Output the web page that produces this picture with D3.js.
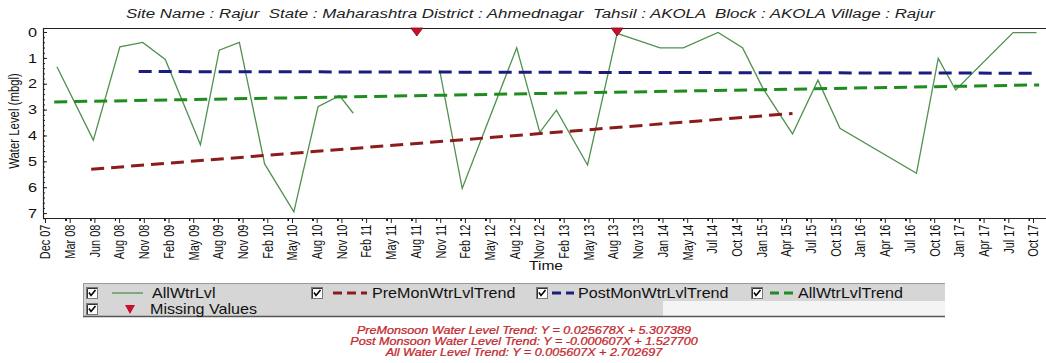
<!DOCTYPE html>
<html>
<head>
<meta charset="utf-8">
<script src="https://cdn.jsdelivr.net/npm/d3@7"></script>
<style>
  body { margin: 0; background: #fff; }
  svg { display: block; }
  text { font-family: "Liberation Sans", Arial, sans-serif; }
</style>
</head>
<body>
<svg id="chart" width="1046" height="363"></svg>
<script>
// ---- Data -------------------------------------------------------------
const tickLabels = ["Dec 07","Mar 08","Jun 08","Aug 08","Nov 08","Feb 09","May 09","Aug 09","Nov 09",
  "Feb 10","May 10","Aug 10","Nov 10","Feb 11","May 11","Aug 11","Nov 11","Feb 12","May 12","Aug 12",
  "Nov 12","Feb 13","May 13","Aug 13","Nov 13","Jan 14","May 14","Jul 14","Oct 14","Jan 15","Apr 15",
  "Jul 15","Oct 15","Jan 16","Apr 16","Jul 16","Oct 16","Jan 17","Apr 17","Jul 17","Oct 17"];

// Observed water level (m below ground level); null marks a break in the record
const obsDates = ["2008-01-14","2008-05-28","2008-08-04","2008-10-28","2009-01-20","2009-05-28",
  "2009-08-06","2009-10-20","2010-01-22","2010-05-08","2010-08-06","2010-10-25","2010-12-15",
  "2011-08-06","2011-10-30","2012-01-22","2012-08-10","2012-11-04","2013-01-05","2013-04-28",
  "2013-08-16","2013-12-26","2014-04-12","2014-07-24","2014-10-23","2015-01-07","2015-04-25",
  "2015-07-28","2015-10-18","2016-07-27","2016-10-16","2016-12-20","2017-07-19","2017-10-14"];
const obsLevels = [1.34, 4.18, 0.57, 0.40, 1.06, 4.36,
  0.70, 0.40, 5.10, 6.95, 2.89, 2.46, 3.14,
  null, 1.47, 6.05, 0.61, 3.88, 3.02, 5.14,
  0.05, 0.61, 0.61, 0.02, 0.61, 2.18, 3.94,
  1.86, 3.72, 5.46, 1.02, 2.24, 0.02, 0.02];

const missingDates = ["2011-08-06", "2013-08-16"];

const preTrendDates = ["2008-05-20", "2015-04-25"];
const preTrendLevels = [5.307, 3.150];
const postTrendDates = ["2008-10-13", "2017-10-01"];
const postTrendLevels = [1.528, 1.593];
const allTrendDates = ["2008-01-04", "2017-10-24"];
const allTrendLevels = [2.703, 2.044];

const yTickValues = [0, 1, 2, 3, 4, 5, 6, 7];

const titleText = "Site Name : Rajur  State : Maharashtra District : Ahmednagar  Tahsil : AKOLA  Block : AKOLA Village : Rajur";
const legendRow1 = ["AllWtrLvl", "PreMonWtrLvlTrend", "PostMonWtrLvlTrend", "AllWtrLvlTrend"];
const legendRow2 = ["Missing Values"];
const trendEquations = [
  "PreMonsoon Water Level Trend: Y = 0.025678X + 5.307389",
  "Post Monsoon Water Level Trend: Y = -0.000607X + 1.527700",
  "All Water Level Trend: Y = 0.005607X + 2.702697"
];

// ---- Colours ----------------------------------------------------------
const C = {
  level: "#4f914f",
  pre: "#8c1c1c",
  post: "#1c1c7e",
  all: "#1f8c1f",
  missing: "#c8102e",
  eq: "#c2282d",
  axis: "#222"
};

// ---- Layout & scales ----------------------------------------------------
const svg = d3.select("#chart");
const plot = { left: 43, right: 1046, top: 28, bottom: 218 };

const parseTick = d3.timeParse("%b %y");
const parseDay = d3.timeParse("%Y-%m-%d");
const tickDates = tickLabels.map(parseTick);

// tick labels are evenly spaced; dates between them are placed proportionally
const xSlot = d3.scalePoint().domain(tickLabels).range([45, 1033]);
const x = d3.scaleTime().domain(tickDates).range(tickLabels.map(l => xSlot(l)));
const y = d3.scaleLinear().domain([-0.155, 7.19]).range([plot.top, plot.bottom]);

svg.append("defs").append("clipPath").attr("id", "plotClip")
  .append("rect").attr("x", plot.left).attr("y", plot.top)
  .attr("width", plot.right - plot.left).attr("height", plot.bottom - plot.top);

// ---- Title ----------------------------------------------------------------
svg.append("text")
  .attr("x", 126).attr("y", 18)
  .attr("font-size", 12).attr("font-style", "italic").attr("fill", "#222")
  .attr("textLength", 809).attr("lengthAdjust", "spacingAndGlyphs")
  .attr("xml:space", "preserve").style("white-space", "pre")
  .text(titleText);

// ---- Axes -----------------------------------------------------------------
// minor x ticks: six per labelled interval, continuing to the right edge
const extTicks = tickDates.concat([parseTick("Jan 18")]);
const minorX = [];
for (let i = 0; i < extTicks.length - 1; i++) {
  const interp = d3.interpolateDate(extTicks[i], extTicks[i + 1]);
  for (let k = 1; k < 6; k++) minorX.push(interp(k / 6));
}
minorX.push(extTicks[extTicks.length - 1]);

const gx = svg.append("g").attr("transform", `translate(0,${plot.bottom})`);
gx.call(d3.axisBottom(x).tickValues(minorX).tickSize(3).tickFormat(""))
  .call(g => g.select(".domain").remove());
const gxMajor = svg.append("g").attr("transform", `translate(0,${plot.bottom})`);
gxMajor.call(d3.axisBottom(x).tickValues(tickDates).tickSize(5).tickPadding(4)
    .tickFormat((d, i) => tickLabels[i]))
  .call(g => g.select(".domain").remove());
gxMajor.selectAll("text")
  .attr("font-size", 11.5).attr("font-family", "'Liberation Sans', Arial, sans-serif")
  .attr("fill", "#111")
  .attr("transform", "rotate(-90) scale(0.95,1.2)")
  .attr("text-anchor", "end")
  .attr("x", -7).attr("y", 0).attr("dy", "0.35em");
svg.selectAll(".tick line").attr("stroke", C.axis);

const minorY = d3.range(0, 7.21, 0.2);
svg.append("g").attr("transform", `translate(${plot.left},0)`)
  .call(d3.axisLeft(y).tickValues(minorY).tickSize(-2).tickFormat(""))
  .call(g => g.select(".domain").remove())
  .selectAll("line").attr("stroke", C.axis);
const gy = svg.append("g").attr("transform", `translate(${plot.left},0)`);
gy.call(d3.axisLeft(y).tickValues(yTickValues).tickSize(-4).tickPadding(6).tickFormat(d3.format("d")))
  .call(g => g.select(".domain").remove());
gy.selectAll("line").attr("stroke", C.axis);
gy.selectAll("text")
  .attr("font-size", 13).attr("font-family", "'Liberation Sans', Arial, sans-serif").attr("fill", "#111")
  .attr("transform", "translate(-6,0) scale(1.25,1) translate(6,0)");

// frame: top border, left axis, bottom axis
const frame = svg.append("g").attr("stroke", C.axis).attr("stroke-width", 1.2);
frame.append("line").attr("x1", plot.left).attr("x2", plot.right).attr("y1", plot.top + 0.5).attr("y2", plot.top + 0.5);
frame.append("line").attr("x1", plot.left + 0.5).attr("x2", plot.left + 0.5).attr("y1", plot.top).attr("y2", plot.bottom);
frame.append("line").attr("x1", plot.left).attr("x2", plot.right).attr("y1", plot.bottom + 0.5).attr("y2", plot.bottom + 0.5);

// axis titles
svg.append("text")
  .attr("transform", "translate(19,121) rotate(-90) scale(0.95,1.2)")
  .attr("text-anchor", "middle").attr("font-size", 12).attr("fill", "#111")
  .text("Water Level (mbgl)");
svg.append("text")
  .attr("transform", "translate(546,270) scale(1.15,1)")
  .attr("text-anchor", "middle").attr("font-size", 13.5).attr("fill", "#111")
  .text("Time");

// ---- Marks ----------------------------------------------------------------
const marks = svg.append("g").attr("clip-path", "url(#plotClip)");

const obs = obsDates.map((d, i) => ({ date: parseDay(d), v: obsLevels[i] }));
const levelLine = d3.line().defined(d => d.v != null).x(d => x(d.date)).y(d => y(d.v));
marks.append("path").datum(obs)
  .attr("fill", "none").attr("stroke", C.level).attr("stroke-width", 1.3)
  .attr("stroke-linejoin", "miter").attr("d", levelLine);

const trendLine = d3.line().x(d => x(d.date)).y(d => y(d.v));
function drawTrend(dates, levels, color) {
  const pts = dates.map((d, i) => ({ date: parseDay(d), v: levels[i] }));
  marks.append("path").datum(pts)
    .attr("fill", "none").attr("stroke", color).attr("stroke-width", 3)
    .attr("stroke-dasharray", "13,7").attr("d", trendLine);
}
drawTrend(postTrendDates, postTrendLevels, C.post);
drawTrend(allTrendDates, allTrendLevels, C.all);
drawTrend(preTrendDates, preTrendLevels, C.pre);

const tri = "M-6,0 L6,0 L0,8 Z";
svg.append("g").selectAll("path").data(missingDates).join("path")
  .attr("transform", d => `translate(${x(parseDay(d))},${plot.top})`)
  .attr("d", tri).attr("fill", C.missing).attr("stroke", "#7d0a18").attr("stroke-width", 0.8);

// ---- Legend ---------------------------------------------------------------
const lg = svg.append("g");
lg.append("rect").attr("x", 83).attr("y", 283).attr("width", 862).attr("height", 34)
  .attr("fill", "#d6d6d6");
lg.append("rect").attr("x", 663).attr("y", 301).attr("width", 282).attr("height", 16).attr("fill", "#f4f4f4");
lg.append("path").attr("d", "M83.5,317 V283.5 H945").attr("fill", "none").attr("stroke", "#9a9a9a");
lg.append("path").attr("d", "M83,316.5 H945").attr("fill", "none").attr("stroke", "#555").attr("stroke-width", 1.5);

function checkbox(cx, cy) {
  const g = lg.append("g").attr("transform", `translate(${cx},${cy - 6})`);
  g.append("rect").attr("x", 0.5).attr("y", 0.5).attr("width", 11).attr("height", 11)
    .attr("fill", "#fff").attr("stroke", "#777");
  g.append("path").attr("d", "M1.5,11 V1.5 H11").attr("fill", "none").attr("stroke", "#333");
  g.append("path").attr("d", "M3,5.5 L5,8.5 L9.5,3").attr("fill", "none")
    .attr("stroke", "#000").attr("stroke-width", 1.6);
}
function legendLabel(lx, ly, txt) {
  lg.append("text").attr("transform", `translate(${lx},${ly}) scale(1.15,1)`)
    .attr("font-size", 14).attr("fill", "#111").attr("dy", "0.35em").text(txt);
}
const row1y = 293, row2y = 309;
const row1 = [
  { box: 86, s0: 112, s1: 143, text: 152, color: C.level, dashed: false },
  { box: 311, s0: 333, s1: 367, text: 372, color: C.pre, dashed: true },
  { box: 536, s0: 552, s1: 574, text: 578, color: C.post, dashed: true },
  { box: 751, s0: 770, s1: 793, text: 798, color: C.all, dashed: true }
];
row1.forEach((it, i) => {
  checkbox(it.box, row1y);
  lg.append("line").attr("x1", it.s0).attr("x2", it.s1).attr("y1", row1y).attr("y2", row1y)
    .attr("stroke", it.color).attr("stroke-width", it.dashed ? 3 : 1.3)
    .attr("stroke-dasharray", it.dashed ? "9,5" : null);
  legendLabel(it.text, row1y, legendRow1[i]);
});
checkbox(86, row2y);
lg.append("path").attr("transform", `translate(130,${row2y - 4})`)
  .attr("d", "M-5,0 L5,0 L0,9 Z").attr("fill", C.missing);
legendLabel(150, row2y, legendRow2[0]);

// ---- Trend equations ------------------------------------------------------
svg.append("g").selectAll("text").data(trendEquations).join("text")
  .attr("transform", (d, i) => `translate(524,${333.5 + i * 11.2}) scale(1.2,1)`)
  .attr("text-anchor", "middle").attr("font-size", 10.5).attr("font-style", "italic")
  .attr("fill", C.eq).attr("stroke", C.eq).attr("stroke-width", 0.25).text(d => d);
</script>
</body>
</html>
